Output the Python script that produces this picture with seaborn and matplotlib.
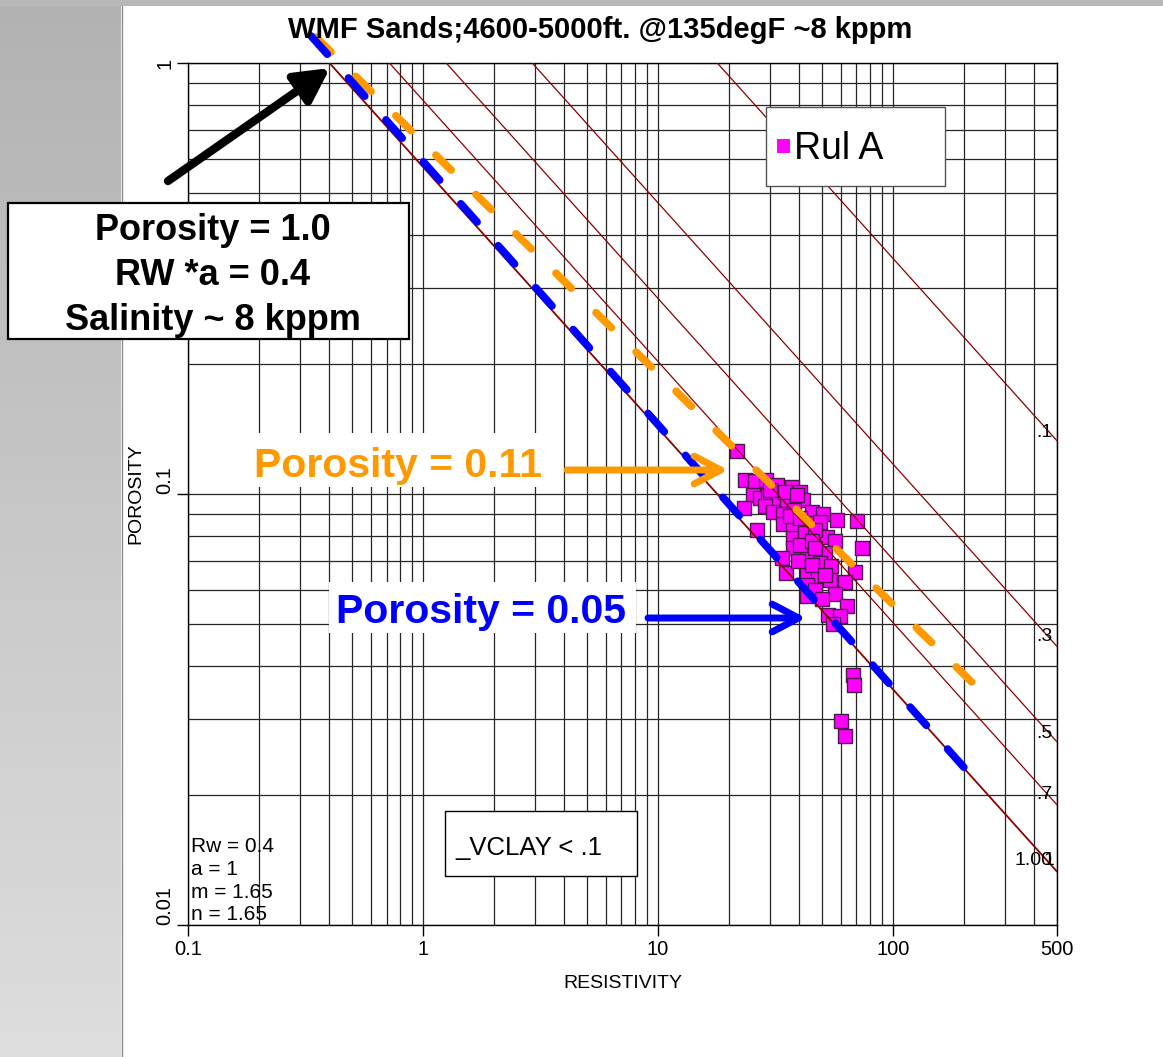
import numpy as np
import pandas as pd
import seaborn as sns
import matplotlib.pyplot as plt
from matplotlib import font_manager
from matplotlib.patches import Rectangle, FancyArrowPatch
from matplotlib.lines import Line2D
from matplotlib.ticker import FixedLocator, LogLocator, NullFormatter

# ---- values ----
resistivity = [21.7, 23.5, 26.0, 28.8, 32.1, 37.2, 40.2, 25.4, 27.2, 29.4,
               32.4, 35.4, 41.4, 23.3, 28.5, 30.8, 34.0, 37.9, 45.2, 50.4,
               57.8, 70.3, 34.0, 37.5, 43.1, 48.9, 26.4, 37.5, 42.2, 52.4,
               56.6, 73.8, 37.5, 43.1, 51.4, 33.7, 43.1, 48.9, 54.5, 68.9,
               35.1, 43.1, 48.0, 53.9, 62.5, 43.1, 43.1, 56.6, 63.7, 52.9,
               59.5, 55.6, 67.6, 68.2, 60.1, 62.5, 30.0, 34.7, 39.0, 36.5,
               40.2, 46.5, 40.2, 45.2, 46.5, 39.5, 45.2, 51.4, 46.5, 49.9]
porosity = [0.126, 0.108, 0.107, 0.108, 0.105, 0.104, 0.101, 0.0995, 0.098, 0.0995,
            0.096, 0.097, 0.097, 0.093, 0.094, 0.091, 0.090, 0.092, 0.091, 0.090,
            0.087, 0.0866, 0.085, 0.084, 0.0856, 0.086, 0.0825, 0.079, 0.081, 0.0795,
            0.078, 0.075, 0.075, 0.074, 0.073, 0.071, 0.0714, 0.069, 0.068, 0.066,
            0.0656, 0.066, 0.064, 0.063, 0.0625, 0.0615, 0.058, 0.0586, 0.055, 0.0524,
            0.052, 0.050, 0.038, 0.036, 0.0297, 0.0274, 0.102, 0.101, 0.0995, 0.089,
            0.088, 0.0825, 0.076, 0.078, 0.075, 0.070, 0.0684, 0.065, 0.060, 0.057]

# water saturation lines: resistivity where each meets porosity 1, porosity where each meets R = 500
sw_levels = [1.0, 0.7, 0.5, 0.3, 0.1]
sw_r_top = [0.40, 0.72, 1.256, 2.92, 17.9]
sw_phi_right = [0.0133, 0.0190, 0.0266, 0.0443, 0.1329]
sw_labels = ["1.00", ".7", ".5", ".3", ".1"]

# hand-drawn trend lines
blue_r = [0.334, 202.5]
blue_phi = [1.155, 0.0231]
orange_r = [0.350, 216.9]
orange_phi = [1.149, 0.0366]

x_ticks = [0.1, 1, 10, 100, 500]
x_tick_labels = ["0.1", "1", "10", "100", "500"]
y_ticks = [0.01, 0.1, 1]
y_tick_labels = ["0.01", "0.1", "1"]

W, H = 1163, 1057

sns.set_style("white")
names = {f.name for f in font_manager.fontManager.ttflist}
NARROW = "Liberation Sans Narrow" if "Liberation Sans Narrow" in names else None
plt.rcParams["font.family"] = ["Liberation Sans", "DejaVu Sans"]
plt.rcParams.update({"text.color": "black", "axes.labelcolor": "black",
                     "xtick.color": "black", "ytick.color": "black"})

fig = plt.figure(figsize=(W / 100, H / 100), dpi=100)


def fx(px):
    return px / W


def fy(py):
    return 1 - py / H


def box(x0, y0, x1, y1, **kw):
    r = Rectangle((fx(x0), fy(y1)), (x1 - x0) / W, (y1 - y0) / H,
                  transform=fig.transFigure, **kw)
    fig.add_artist(r)
    return r


# grey slide background on the left
bg = fig.add_axes([0, 0, fx(121), 1], zorder=-5)
grad = np.linspace(0, 1, 256).reshape(-1, 1)
bg.imshow(grad, aspect="auto", cmap=sns.blend_palette(["#b2b2b2", "#dedede"], as_cmap=True),
          extent=[0, 1, 0, 1], origin="upper")
bg.set_axis_off()
box(0, 0, W, 6, facecolor="#b8b8b8", edgecolor="none", zorder=0.5)
fig.add_artist(Line2D([fx(121.5), fx(121.5)], [0, fy(6)], color="#8a8a8a", lw=1,
                      transform=fig.transFigure))

ax = fig.add_axes([fx(188), fy(925), (1057 - 188) / W, (925 - 63) / H])
ax.set_xscale("log")
ax.set_yscale("log")
ax.set_xlim(0.1, 500)
ax.set_ylim(0.01, 1)

ax.xaxis.set_major_locator(FixedLocator(x_ticks))
ax.xaxis.set_minor_locator(LogLocator(base=10, subs=np.arange(2, 10)))
ax.yaxis.set_major_locator(FixedLocator(y_ticks))
ax.yaxis.set_minor_locator(LogLocator(base=10, subs=np.arange(2, 10)))
ax.xaxis.set_minor_formatter(NullFormatter())
ax.yaxis.set_minor_formatter(NullFormatter())
ax.set_xticklabels(x_tick_labels)
ax.set_yticklabels(y_tick_labels)
ax.grid(which="both", color="#262626", lw=0.9)
ax.set_axisbelow(True)
ax.tick_params(which="major", direction="out", length=8, width=1, color="black",
               labelsize=14.5, bottom=True, left=True)
ax.tick_params(axis="x", pad=2.5)
ax.tick_params(axis="y", pad=2)
ax.tick_params(which="minor", length=0)
for lab in ax.get_yticklabels():
    lab.set_rotation(90)
    lab.set_ha("right")
    lab.set_va("bottom" if lab.get_text() != "1" else "center")
for s in ax.spines.values():
    s.set_color("black")
    s.set_linewidth(1)

ax.set_xlabel("RESISTIVITY", fontsize=14, labelpad=12)
ax.set_ylabel("POROSITY", fontsize=14, labelpad=8)

# scatter
pts = pd.DataFrame({"RESISTIVITY": resistivity, "POROSITY": porosity})
sns.scatterplot(data=pts, x="RESISTIVITY", y="POROSITY", marker="s", s=110,
                color="#ff00ff", edgecolor="#4a1a4a", linewidth=1, ax=ax,
                zorder=3, legend=False)

# saturation lines
rows = []
for sw, r0, p1 in zip(sw_levels, sw_r_top, sw_phi_right):
    rows.append({"sw": sw, "R": r0, "phi": 1.0})
    rows.append({"sw": sw, "R": 500.0, "phi": p1})
lines = pd.DataFrame(rows)
sns.lineplot(data=lines[lines.sw < 1], x="R", y="phi", units="sw", estimator=None,
             color="#8b0000", lw=0.9, ax=ax, zorder=4, legend=False)
sns.lineplot(data=lines[lines.sw == 1], x="R", y="phi", units="sw", estimator=None,
             color="#8b0000", lw=1.3, ax=ax, zorder=4, legend=False)

for lab, yy in zip(sw_labels, [865, 799, 738, 641, 437]):
    fig.text(fx(1053), fy(yy), lab, ha="right", va="baseline", fontsize=14, zorder=5)
fig.text(fx(1054), fy(865), "1", ha="right", va="baseline", fontsize=14, zorder=5)

# dashed trend lines
sns.lineplot(x=orange_r, y=orange_phi, color="#ff9900", lw=5.5, linestyle=(0, (2.8, 4.55)),
             dash_capstyle="round", clip_on=False, ax=ax, zorder=6)
sns.lineplot(x=blue_r, y=blue_phi, color="#0000ff", lw=5.5, linestyle=(0, (3.2, 4.16)),
             dash_capstyle="round", clip_on=False, ax=ax, zorder=7)

# title
fig.text(fx(600), fy(38), "WMF Sands;4600-5000ft. @135degF ~8 kppm", ha="center",
         va="baseline", fontsize=21, fontweight="bold")

# legend box
box(766, 107, 945, 186, facecolor="white", edgecolor="#555555", lw=1, zorder=2)
box(777, 139, 790, 153, facecolor="#ff00ff", edgecolor="none", zorder=3)
fig.text(fx(794), fy(159), "Rul A", ha="left", va="baseline", fontsize=27, zorder=3)

# VCLAY box
narrow_kw = {"family": NARROW} if NARROW else {}
box(445, 811, 637, 876, facecolor="white", edgecolor="black", lw=1, zorder=2)
fig.text(fx(455), fy(855), "_VCLAY < .1", ha="left", va="baseline",
         fontsize=21 if NARROW else 18.5, zorder=3, **narrow_kw)

# parameters
for txt, yy in zip(["Rw = 0.4", "a = 1", "m = 1.65", "n = 1.65"], [852, 875, 898, 920]):
    fig.text(fx(191), fy(yy), txt, ha="left", va="baseline",
             fontsize=16 if NARROW else 15, zorder=3, **narrow_kw)

# annotation box
box(8, 203, 409, 339, facecolor="white", edgecolor="black", lw=1.6, zorder=2)
for txt, yy in zip(["Porosity = 1.0", "RW *a = 0.4", "Salinity ~ 8 kppm"], [240, 285, 330]):
    fig.text(fx(213), fy(yy), txt, ha="center", va="baseline", fontsize=26,
             fontweight="bold", zorder=3)

fig.add_artist(FancyArrowPatch((fx(168), fy(181)), (fx(330), fy(68)),
                               transform=fig.transFigure,
                               arrowstyle="-|>,head_length=1.7,head_width=0.9",
                               mutation_scale=12, lw=6, color="black",
                               shrinkA=0, shrinkB=0, zorder=4))

# coloured labels with white backing
box(245, 433, 560, 487, facecolor="white", edgecolor="none", zorder=2)
fig.text(fx(398), fy(477), "Porosity = 0.11", ha="center", va="baseline", fontsize=29.5,
         fontweight="bold", color="#ff9900", zorder=3)
box(329, 582, 636, 633, facecolor="white", edgecolor="none", zorder=2)
fig.text(fx(481), fy(623), "Porosity = 0.05", ha="center", va="baseline", fontsize=29.5,
         fontweight="bold", color="#0000ff", zorder=3)

for (x0, x1, yy, col) in [(567, 728, 470, "#ff9900"), (648, 806, 618, "#0000ff")]:
    fig.add_artist(FancyArrowPatch((fx(x0), fy(yy)), (fx(x1), fy(yy)),
                                   transform=fig.transFigure,
                                   arrowstyle="->,head_length=1.9,head_width=1.0",
                                   mutation_scale=10, lw=5, color=col,
                                   capstyle="round", joinstyle="round",
                                   shrinkA=0, shrinkB=0, zorder=4))

fig.savefig("out.png", dpi=100)
